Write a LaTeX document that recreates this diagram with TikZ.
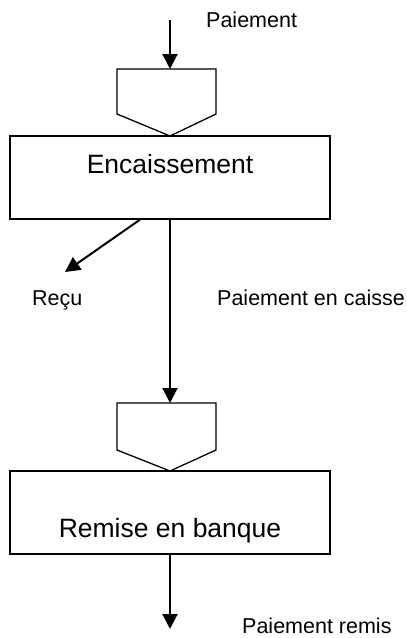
\documentclass[tikz,border=0pt]{standalone}
\usepackage{fontspec}
\setmainfont{Liberation Sans}
\usetikzlibrary{arrows.meta}
\begin{document}
\begin{tikzpicture}[x=1pt,y=-1pt,
  lbl/.style={font=\fontsize{21.5}{24}\selectfont, inner sep=0pt, anchor=base west},
  boxtxt/.style={font=\fontsize{26.5}{30}\selectfont, inner sep=0pt, anchor=base},
  flow/.style={line width=2pt, -{Triangle[length=15pt,width=15pt]}},
  shp/.style={line width=1.3pt}]
\useasboundingbox (0,0) rectangle (407,638);
% top pentagon and box
\draw[shp] (117,69) -- (216,69) -- (216,114) -- (170,136) -- (117,114) -- cycle;
\coordinate (p1top) at (170,69);
\node[draw, shp, minimum width=320pt, minimum height=83pt, inner sep=0pt] (enc) at (170,177.5) {};
\node[boxtxt] (enctxt) at (170,173) {Encaissement};
% bottom pentagon and box
\draw[shp] (117,403) -- (216,403) -- (216,450) -- (170,471) -- (117,450) -- cycle;
\coordinate (p2top) at (170,403);
\node[draw, shp, minimum width=320pt, minimum height=83pt, inner sep=0pt] (rem) at (170,512.5) {};
\node[boxtxt] (remtxt) at (170,537) {Remise en banque};
% labels
\node[lbl] (paie) at (206,27) {Paiement};
\node[lbl] (recu) at (32,305) {Reçu};
\node[lbl] (caisse) at (217,305) {Paiement en caisse};
\node[lbl] (remis) at (242,633) {Paiement remis};
% connectors
\coordinate (in) at (170,20);
\coordinate (recuend) at (65,272);
\coordinate (out) at (170,629);
\draw[flow] (in) -- (p1top);
\draw[flow] (enc.south -| 140,0) -- (recuend);
\draw[flow] (enc.south) -- (p2top);
\draw[flow] (rem.south) -- (out);
\end{tikzpicture}
\end{document}
